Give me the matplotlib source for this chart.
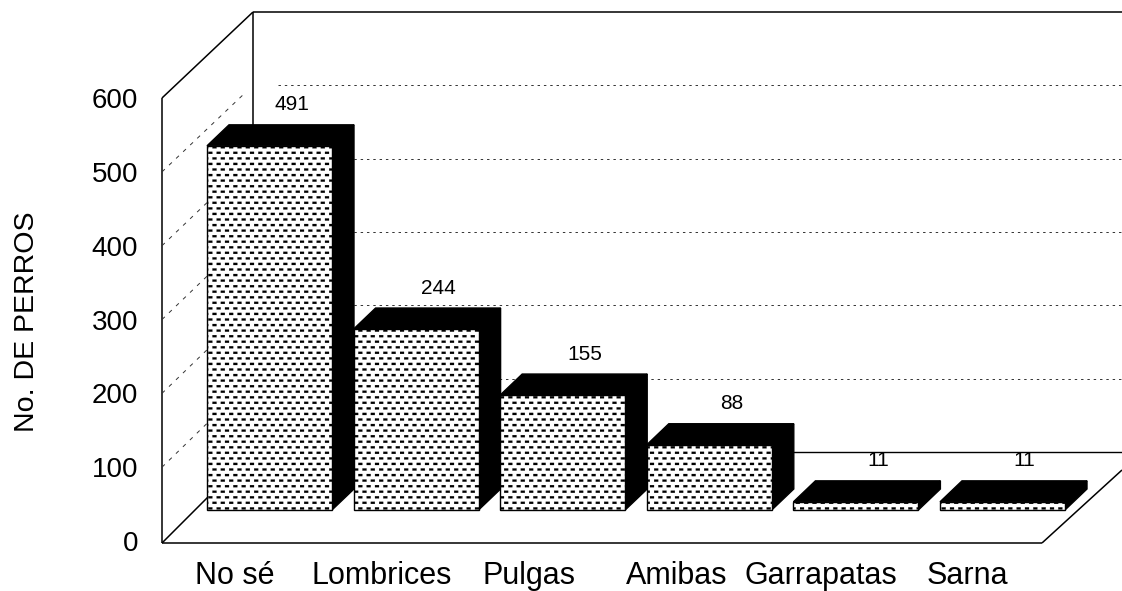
import numpy as np
import matplotlib
matplotlib.use('Agg')
import matplotlib.pyplot as plt
import matplotlib.hatch as mhatch
from matplotlib.patches import Polygon
from matplotlib.path import Path

categories = ['No sé', 'Lombrices', 'Pulgas', 'Amibas', 'Garrapatas', 'Sarna']
values = [491, 244, 155, 88, 11, 11]
value_labels = ['491', '244', '155', '88', '11', '11']
y_ticks = [0, 100, 200, 300, 400, 500, 600]

plt.rcParams['font.family'] = ['Liberation Sans', 'DejaVu Sans']
plt.rcParams['hatch.linewidth'] = 0.15

W, H = 1122, 591
X0, STEP = 269.5, 146.6    # pixel of first bar centre, pixels per category
Y0, SCALE = 510.0, 0.7417  # pixel of bar base, pixels per value unit


# small staggered dashes like the printed fill of the bars
class Dashes(mhatch.HatchPatternBase):
    nx, ny = 12, 18
    w, h = 0.04, 0.021

    def __init__(self, hatch, density):
        self.on = hatch.count('*') > 0
        self.num_vertices = self.nx * self.ny * 5 if self.on else 0

    def set_vertices_and_codes(self, vertices, codes):
        n = 0
        for row in range(self.ny):
            for col in range(self.nx):
                x = (col + 0.5 * (row % 2)) / self.nx
                y = (row + 0.3) / self.ny
                vertices[n:n + 5] = [(x, y), (x + self.w, y), (x + self.w, y + self.h),
                                     (x, y + self.h), (x, y)]
                codes[n:n + 5] = [Path.MOVETO, Path.LINETO, Path.LINETO, Path.LINETO,
                                  Path.CLOSEPOLY]
                n += 5


mhatch._hatch_types[:] = [Dashes]


def px(x, y):
    # pixel position to data position
    return (x - X0) / STEP, (Y0 - y) / SCALE


def line(ax, p, q, **kw):
    a, b = px(*p), px(*q)
    kw.setdefault('color', 'black')
    kw.setdefault('lw', 1.1)
    ax.plot([a[0], b[0]], [a[1], b[1]], solid_capstyle='butt', **kw)


fig = plt.figure(figsize=(W / 100, H / 100), dpi=100)
ax = fig.add_axes([0, 0, 1, 1])
ax.set_xlim(-X0 / STEP, (W - X0) / STEP)
ax.set_ylim((Y0 - H) / SCALE, Y0 / SCALE)
ax.axis('off')

# walls and floor
line(ax, (162, 98), (162, 543))
line(ax, (162, 98), (253, 12))
line(ax, (253, 12), (253, 452))
line(ax, (253, 12), (W, 12))
line(ax, (162, 543), (1042, 543))
line(ax, (1042, 543), (W, 470))
line(ax, (162, 543), (253, 452))
line(ax, (253, 452), (W, 452), lw=1.0)

# grid on back wall and side wall
for t in y_ticks[1:-1]:
    yb = 452 - t * 0.7333
    yf = 541 - t * 0.7383
    line(ax, (278, yb), (W, yb), lw=0.7, ls=(0, (2.5, 4)), color='#333333')
    line(ax, (162, yf), (246, yf + (yb - yf) * 84 / 91), lw=0.7, ls=(0, (4, 6)), color='#333333')

# bars
bar_w = 125 / STEP
dx, dy = 22 / STEP, 21 / SCALE
for i, v in enumerate(values):
    l, r = i - bar_w / 2, i + bar_w / 2
    ax.add_patch(Polygon([(l, v), (l + dx, v + dy), (r + dx, v + dy), (r, v)],
                         fc='black', ec='black', lw=1, zorder=3 + i))
    ax.add_patch(Polygon([(r, 0), (r + dx, dy), (r + dx, v + dy), (r, v)],
                         fc='black', ec='black', lw=1, zorder=3 + i))
    ax.add_patch(Polygon([(l, 0), (l, v), (r, v), (r, 0)],
                         fc='white', ec='black', lw=1, hatch='*', zorder=4 + i))
    ax.text(i + 22 / STEP, v + dy + 20 / SCALE, value_labels[i], ha='center', va='center',
            fontsize=15, zorder=20)

# y tick labels
for t in y_ticks:
    x, y = px(138, 544 - t * 0.7383)
    ax.text(x, y, str(t), ha='right', va='center', fontsize=20)

# category labels sit left of the bars
label_shift = [-34.5, -34, -34, -33, -35, -35]
for i, c in enumerate(categories):
    x, y = px(X0 + i * STEP + label_shift[i], 576)
    ax.text(x, y, c, ha='center', va='center', fontsize=22)

x, y = px(27, 322)
ax.text(x, y, 'No. DE PERROS', rotation=90, ha='center', va='center', fontsize=20.5)

fig.savefig('out.png', dpi=100)
